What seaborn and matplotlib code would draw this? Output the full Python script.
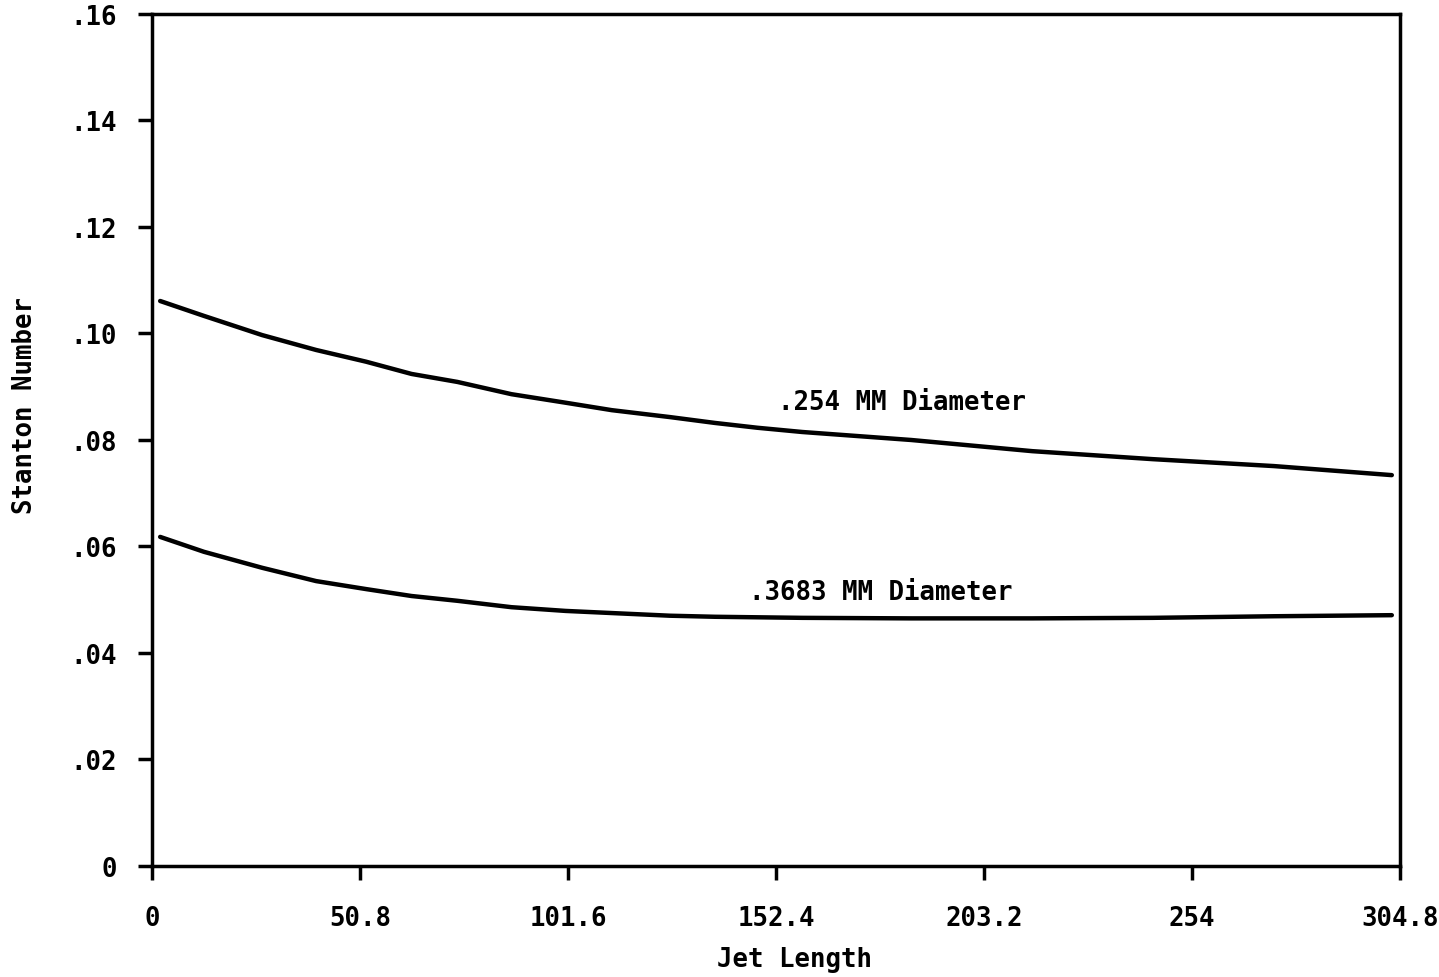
import matplotlib
matplotlib.use("Agg")
import matplotlib.pyplot as plt
import seaborn as sns
import pandas as pd

# Stanton number vs. jet length (mm) for two orifice diameters
jet_length_254 = [2.0, 12.7, 26.9, 40.1, 52.3, 63.4, 74.6, 87.8, 101.0, 112.3,
                  126.5, 137.5, 147.8, 158.8, 185.4, 215.0, 244.4, 274.0, 302.8]
stanton_254 = [0.1061, 0.1033, 0.0997, 0.0969, 0.0947, 0.0924, 0.0909, 0.0886,
               0.0870, 0.0856, 0.0843, 0.0832, 0.0823, 0.0815, 0.0800, 0.0779,
               0.0764, 0.0751, 0.0734]

jet_length_3683 = [2.0, 12.7, 26.9, 40.1, 52.3, 63.4, 74.6, 87.8, 101.0, 112.3,
                   126.5, 137.5, 158.8, 185.4, 215.0, 244.4, 274.0, 302.8]
stanton_3683 = [0.0618, 0.0590, 0.0560, 0.0535, 0.0520, 0.0507, 0.0498, 0.0486,
                0.0479, 0.0475, 0.0470, 0.0468, 0.0466, 0.0465, 0.0465, 0.0466,
                0.0469, 0.0471]

x_ticks = [0, 50.8, 101.6, 152.4, 203.2, 254, 304.8]
x_tick_labels = ["0", "50.8", "101.6", "152.4", "203.2", "254", "304.8"]
y_ticks = [0, 0.02, 0.04, 0.06, 0.08, 0.10, 0.12, 0.14, 0.16]
y_tick_labels = ["0", ".02", ".04", ".06", ".08", ".10", ".12", ".14", ".16"]

series_labels = [".254 MM Diameter", ".3683 MM Diameter"]

df = pd.concat([
    pd.DataFrame({"Jet Length": jet_length_254, "Stanton Number": stanton_254,
                  "series": series_labels[0]}),
    pd.DataFrame({"Jet Length": jet_length_3683, "Stanton Number": stanton_3683,
                  "series": series_labels[1]}),
])

sns.set_style("ticks")
plt.rcParams["font.family"] = ["DejaVu Sans Mono", "DejaVu Sans"]
plt.rcParams["text.color"] = "black"
plt.rcParams["axes.labelcolor"] = "black"

fig = plt.figure(figsize=(14.39, 9.78), dpi=100)
ax = fig.add_axes([0.1056, 0.1135, 0.8673, 0.8712])

sns.lineplot(data=df, x="Jet Length", y="Stanton Number", hue="series",
             palette=["black", "black"], linewidth=3.2, legend=False, ax=ax,
             estimator=None, sort=True)
for line in ax.get_lines():
    line.set_solid_capstyle("round")
    line.set_solid_joinstyle("round")

ax.set_xlim(0, 304.8)
ax.set_ylim(0, 0.16)
ax.set_xticks(x_ticks)
ax.set_xticklabels(x_tick_labels)
ax.set_yticks(y_ticks)
ax.set_yticklabels(y_tick_labels)

for side in ["left", "right", "top", "bottom"]:
    ax.spines[side].set_visible(True)
    ax.spines[side].set_linewidth(2.5)
    ax.spines[side].set_color("black")

ax.tick_params(axis="both", direction="out", length=10, width=2.5,
               colors="black", labelsize=18.5)
ax.tick_params(axis="y", pad=15)
ax.tick_params(axis="x", pad=18)
for lbl in ax.get_xticklabels() + ax.get_yticklabels():
    lbl.set_fontweight("bold")

ax.set_xlabel("Jet Length", fontsize=18.5, fontweight="bold", va="center")
ax.xaxis.set_label_coords(0.515, -0.109)
ax.set_ylabel("Stanton Number", fontsize=18.5, fontweight="bold", va="center")
ax.yaxis.set_label_coords(-0.1018, 0.542)

ax.text(183.2, 0.0871, series_labels[0], fontsize=18.5, fontweight="bold",
        ha="center", va="center")
ax.text(178.1, 0.0515, series_labels[1], fontsize=18.5, fontweight="bold",
        ha="center", va="center")

fig.savefig("out.png", dpi=100, facecolor="white")
